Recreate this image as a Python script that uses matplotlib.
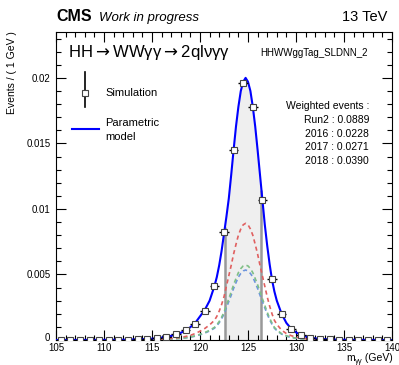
import numpy as np
import matplotlib
matplotlib.use("Agg")
import matplotlib.pyplot as plt
from matplotlib.lines import Line2D
from matplotlib.ticker import MultipleLocator
from matplotlib.transforms import ScaledTranslation

plt.rcParams['font.family'] = ['Liberation Sans', 'DejaVu Sans']

# simulated points (1 GeV bins)
bin_centers = [105.5, 106.5, 107.5, 108.5, 109.5, 110.5, 111.5, 112.5, 113.5, 114.5,
               115.5, 116.5, 117.5, 118.5, 119.5, 120.5, 121.5, 122.5, 123.5, 124.5,
               125.5, 126.5, 127.5, 128.5, 129.5, 130.5, 131.5, 132.5, 133.5, 134.5,
               135.5, 136.5, 137.5, 138.5, 139.5]
sim_values = [0.00001, 0.00001, 0.00001, 0.00001, 0.00001, 0.00002, 0.00002, 0.00003, 0.00005, 0.00008,
              0.00013, 0.00025, 0.00043, 0.00076, 0.00124, 0.00219, 0.00412, 0.00825, 0.01453, 0.01962,
              0.01778, 0.01065, 0.00465, 0.00195, 0.00084, 0.00038, 0.00018, 0.0001, 0.00005, 0.00003,
              0.00002, 0.00001, 0.00001, 0.00001, 0.00001]
sim_errors = [0.00001, 0.00001, 0.00001, 0.00001, 0.00001, 0.00001, 0.00001, 0.00001, 0.00002, 0.00002,
              0.00003, 0.00004, 0.00005, 0.00006, 0.00008, 0.0001, 0.00012, 0.00015, 0.00018, 0.0002,
              0.0002, 0.00016, 0.00012, 0.00008, 0.00005, 0.00004, 0.00003, 0.00002, 0.00001, 0.00001,
              0.00001, 0.00001, 0.00001, 0.00001, 0.00001]

# parametric model
model_x = [105, 110, 112, 113, 114, 115, 116, 117, 118, 118.5, 119, 119.5, 120, 120.5, 121,
           121.5, 121.75, 122, 122.25, 122.5, 122.75, 123, 123.25, 123.5, 123.75, 124, 124.25,
           124.5, 124.75, 125, 125.25, 125.5, 125.75, 126, 126.25, 126.5, 126.75, 127, 127.25,
           127.5, 127.75, 128, 128.5, 129, 129.5, 130, 130.5, 131, 132, 133, 134, 136, 140]
model_run2 = [0.0, 0.00001, 0.00002, 0.00004, 0.00006, 0.0001, 0.00018, 0.00032, 0.00055, 0.00072,
              0.00098, 0.0013, 0.0018, 0.0023, 0.0030, 0.0041, 0.0048, 0.0057, 0.0068, 0.0081,
              0.0094, 0.0108, 0.0126, 0.0145, 0.0163, 0.0178, 0.0190, 0.0197, 0.0200, 0.0197,
              0.0190, 0.0178, 0.0163, 0.0145, 0.0126, 0.0107, 0.0088, 0.0072, 0.0058, 0.0046,
              0.0037, 0.0030, 0.0020, 0.0013, 0.00086, 0.00058, 0.0004, 0.00027, 0.00012, 0.00006,
              0.00003, 0.00001, 0.0]
model_2018 = [0.0, 0.000004, 0.00001, 0.000015, 0.00002, 0.00004, 0.00007, 0.00012, 0.0002, 0.00027,
              0.00036, 0.00049, 0.00067, 0.00088, 0.00115, 0.0015, 0.0018, 0.0022, 0.0027, 0.0033,
              0.0041, 0.0049, 0.0057, 0.00656, 0.0073, 0.0080, 0.00847, 0.00879, 0.0089, 0.00879,
              0.00847, 0.0080, 0.0073, 0.00656, 0.0057, 0.0049, 0.0041, 0.0033, 0.0026, 0.0020,
              0.0015, 0.0012, 0.00075, 0.00049, 0.00033, 0.00022, 0.00015, 0.0001, 0.000046, 0.000023,
              0.000011, 0.000004, 0.0]
model_2017 = [0.0, 0.000003, 0.000006, 0.00001, 0.000013, 0.000026, 0.000045, 0.000077, 0.00013, 0.00017,
              0.00023, 0.00032, 0.00043, 0.00057, 0.00074, 0.00096, 0.00116, 0.00141, 0.00174, 0.00212,
              0.00264, 0.00315, 0.00367, 0.00422, 0.00469, 0.00514, 0.00545, 0.00565, 0.00572, 0.00565,
              0.00545, 0.00514, 0.00469, 0.00422, 0.00367, 0.00315, 0.00264, 0.00212, 0.00167, 0.00129,
              0.00096, 0.00077, 0.00048, 0.00032, 0.00021, 0.00014, 0.0001, 0.000064, 0.00003, 0.000015,
              0.000007, 0.000003, 0.0]
model_2016 = [0.0, 0.000002, 0.000006, 0.000009, 0.000012, 0.000024, 0.000042, 0.000072, 0.00012, 0.00016,
              0.00022, 0.00029, 0.0004, 0.00053, 0.00069, 0.0009, 0.00108, 0.00132, 0.00162, 0.00198,
              0.00246, 0.00294, 0.00342, 0.00394, 0.00438, 0.0048, 0.00508, 0.00527, 0.00534, 0.00527,
              0.00508, 0.0048, 0.00438, 0.00394, 0.00342, 0.00294, 0.00246, 0.00198, 0.00156, 0.0012,
              0.0009, 0.00072, 0.00045, 0.00029, 0.0002, 0.00013, 0.00009, 0.00006, 0.000028, 0.000014,
              0.000007, 0.000002, 0.0]

# shaded window
win_lo, win_hi = 122.6, 126.4

yield_labels = ['Run2', '2016', '2017', '2018']
yield_values = [0.0889, 0.0228, 0.0271, 0.0390]

W, H = 399, 365
fig = plt.figure(figsize=(W / 100, H / 100), dpi=100)
ax = fig.add_axes([56 / W, 1 - 340 / H, 336 / W, 308 / H])

def px(x, y):
    return x / W, 1 - y / H

mx = np.array(model_x)
my = np.array(model_run2)

# shaded area under the model
inside = (mx > win_lo) & (mx < win_hi)
fx = np.concatenate([[win_lo], mx[inside], [win_hi]])
fy = np.concatenate([[np.interp(win_lo, mx, my)], my[inside], [np.interp(win_hi, mx, my)]])
ax.fill_between(fx, 0, fy, color='#efefef', zorder=1, linewidth=0)
ax.vlines([win_lo, win_hi], 0, [fy[0], fy[-1]], color='#999999', linewidth=1.8, zorder=2)

ax.plot(mx, model_2016, color='#6d95dd', linestyle=(0, (2.5, 2)), linewidth=1.2, zorder=3)
ax.plot(mx, model_2017, color='#7fbf86', linestyle=(0, (2.5, 2)), linewidth=1.2, zorder=3)
ax.plot(mx, model_2018, color='#e06060', linestyle=(0, (2.5, 2)), linewidth=1.2, zorder=3)
ax.plot(mx, my, color='#0000ff', linewidth=1.5, zorder=4)

ax.errorbar(bin_centers, sim_values, xerr=0.5, yerr=sim_errors, fmt='none',
            ecolor='black', elinewidth=1, capsize=0, zorder=5)
ax.plot(bin_centers, sim_values, 's', markersize=4.5, markerfacecolor='white',
        markeredgecolor='#444444', markeredgewidth=0.8, zorder=6)

ax.set_xlim(105, 140)
ax.set_ylim(0, 0.0235)
ax.xaxis.set_major_locator(MultipleLocator(5))
ax.xaxis.set_minor_locator(MultipleLocator(1))
ax.yaxis.set_minor_locator(MultipleLocator(0.001))
ax.set_yticks([0, 0.005, 0.01, 0.015, 0.02])
ax.set_yticklabels(['0', '0.005', '0.01', '0.015', '0.02'])
ax.tick_params(which='both', direction='in', top=True, right=True, labelsize=7, width=0.8)
ax.tick_params(which='major', length=7)
ax.tick_params(which='minor', length=3.5)
ax.tick_params(axis='x', pad=2)
ax.tick_params(axis='y', pad=4)
for s in ax.spines.values():
    s.set_linewidth(0.8)

# lift the "0" label a little so it clears "105"
zero_lbl = ax.get_yticklabels()[0]
zero_lbl.set_transform(zero_lbl.get_transform() + ScaledTranslation(0, 2.5 / 72, fig.dpi_scale_trans))

# texts
fig.text(*px(56, 21), 'CMS', fontsize=11.5, fontweight='bold', va='baseline')
fig.text(*px(99, 21), 'Work in progress', fontsize=9.5, style='italic', va='baseline')
fig.text(*px(387, 21), '13 TeV', fontsize=10.5, ha='right', va='baseline')
fig.text(*px(68, 57), r'HH$\rightarrow$WWγγ$\rightarrow$2qlνγγ', fontsize=12, va='baseline',
         math_fontfamily='dejavusans')
fig.text(*px(368, 56), 'HHWWggTag_SLDNN_2', fontsize=7, ha='right', va='baseline')
fig.text(*px(12, 31), 'Events / ( 1 GeV )', fontsize=7.5, rotation=90, ha='center', va='top')

# x label: m, subscript γγ, (GeV)
t_gev = fig.text(*px(393, 361), ' (GeV)', fontsize=7.5, ha='right', va='baseline')
t_sub = fig.text(*px(369, 363), 'γγ', fontsize=5.5, ha='right', va='baseline')
t_m = fig.text(*px(361, 361), 'm', fontsize=7.5, ha='right', va='baseline')
fig.canvas.draw()
r = fig.canvas.get_renderer()
gev_left = t_gev.get_window_extent(r).x0
t_sub.set_x(gev_left / fig.bbox.width)
sub_left = t_sub.get_window_extent(r).x0
t_m.set_x(sub_left / fig.bbox.width)

# legend drawn by hand
fig.add_artist(Line2D([85 / W, 85 / W], [1 - 72 / H, 1 - 107 / H], color='black', linewidth=1.2))
fig.add_artist(Line2D([85 / W], [1 - 93 / H], marker='s', markersize=4.5, markerfacecolor='white',
                      markeredgecolor='#444444', markeredgewidth=0.8))
fig.text(*px(105, 93), 'Simulation', fontsize=8, va='center')
fig.add_artist(Line2D([72 / W, 99 / W], [1 - 129 / H, 1 - 129 / H], color='#0000ff', linewidth=1.5))
fig.text(*px(105, 123), 'Parametric', fontsize=8, va='center')
fig.text(*px(105, 137), 'model', fontsize=8, va='center')

fig.text(*px(369, 106), 'Weighted events :', fontsize=7.5, ha='right', va='center')
for i, (lab, val) in enumerate(zip(yield_labels, yield_values)):
    fig.text(*px(369, 120 + 13.7 * i), f'{lab} : {val:.4f}', fontsize=7.5, ha='right', va='center')

fig.savefig('out.png', dpi=100)
